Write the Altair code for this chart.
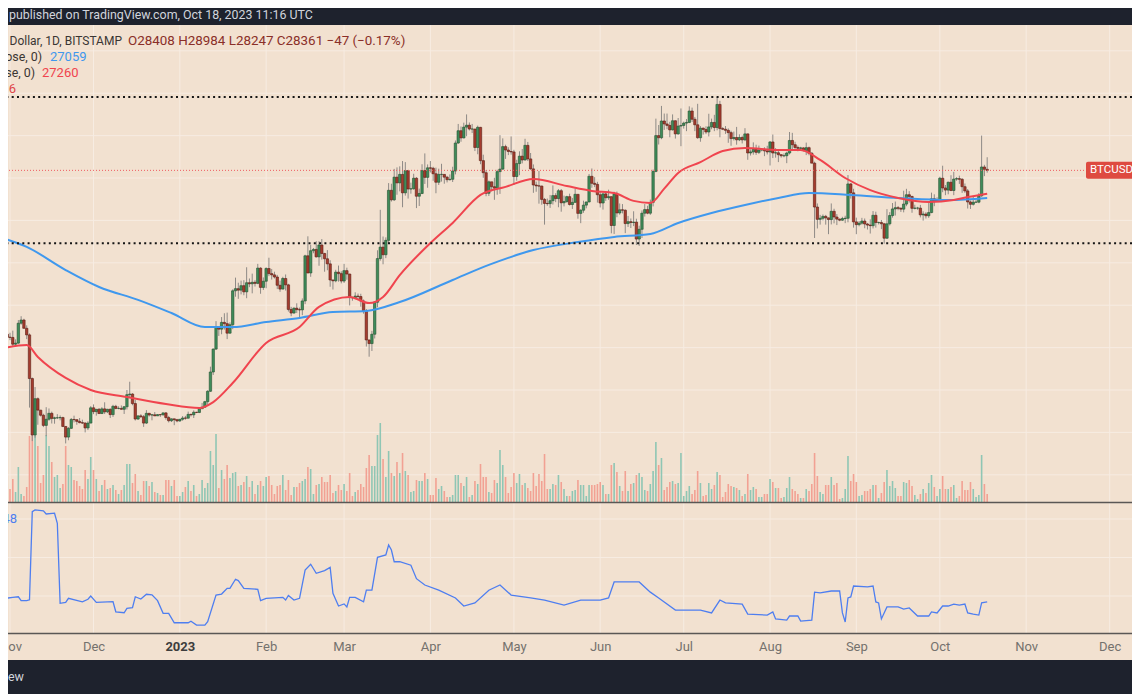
import altair as alt
import pandas as pd

# ------------------------------------------------------------------ data
FIRST_DAY = "2022-10-28"   # one candle per day from here on (BTC/USD, thousands of USD)

open_k = [
 20.29,20.60,20.82,20.63,20.49,20.48,20.16,20.21,21.15,21.30,
 20.91,20.60,18.54,15.88,17.59,17.05,16.81,16.33,16.62,16.90,
 16.66,16.69,16.69,16.70,16.28,15.78,16.19,16.61,16.60,16.52,
 16.46,16.44,16.21,16.44,17.16,16.98,17.09,16.89,17.11,16.97,
 17.09,16.84,17.23,17.13,17.13,17.09,17.21,17.78,17.81,17.36,
 16.63,16.78,16.74,16.44,16.90,16.82,16.83,16.78,16.84,16.83,
 16.92,16.70,16.55,16.64,16.60,16.54,16.62,16.68,16.67,16.85,
 16.83,16.95,16.94,17.12,17.19,17.45,17.94,18.85,19.93,20.95,
 20.87,21.19,21.13,20.68,21.08,22.68,22.78,22.71,22.92,22.63,
 23.06,23.01,23.08,23.03,23.75,22.84,23.13,23.73,23.49,23.43,
 23.33,22.94,22.76,23.26,22.96,21.80,21.63,21.86,21.79,21.78,
 22.20,24.33,23.52,24.57,24.63,24.28,24.84,24.44,24.19,23.95,
 23.19,23.15,23.56,23.49,23.14,23.63,23.47,22.36,22.35,22.43,
 22.41,22.20,21.70,20.36,20.19,20.63,22.14,24.20,24.74,24.38,
 25.06,27.42,26.97,28.04,27.77,28.17,27.30,28.35,27.48,27.49,
 27.99,27.14,27.27,28.35,28.03,28.48,28.46,28.20,27.80,28.17,
 28.17,28.04,27.92,27.94,28.33,29.65,30.23,29.89,30.40,30.49,
 30.31,30.31,29.44,30.39,28.82,28.25,27.28,27.82,27.59,27.52,
 28.30,28.42,29.48,29.32,29.25,29.23,28.07,28.68,29.03,28.85,
 29.54,28.90,28.43,27.67,27.63,27.62,26.99,26.80,26.79,26.93,
 27.17,27.03,27.40,26.83,26.89,27.12,26.75,26.85,27.23,26.33,
 26.48,26.72,26.87,28.08,27.75,27.70,27.21,26.82,27.25,27.07,
 27.12,25.76,27.24,26.35,26.50,26.48,25.85,25.94,25.90,25.92,
 25.12,25.58,26.34,26.51,26.34,26.85,28.31,30.00,29.90,30.69,
 30.55,30.48,30.27,30.70,30.08,30.45,30.48,30.59,30.62,31.16,
 30.77,30.51,29.90,30.35,30.29,30.17,30.41,30.62,30.38,31.47,
 30.33,30.30,30.25,30.14,29.86,29.91,29.80,29.91,29.80,30.08,
 29.18,29.23,29.35,29.21,29.32,29.35,29.28,29.23,29.70,29.18,
 29.19,29.10,29.05,29.05,29.18,29.77,29.57,29.44,29.40,29.42,
 29.30,29.43,29.17,28.70,26.63,26.05,26.10,26.19,26.12,26.04,
 26.43,26.16,26.06,26.01,26.09,26.10,27.72,27.30,25.93,25.80,
 25.87,25.97,25.83,25.78,25.75,26.24,25.90,25.90,25.84,25.16,
 25.84,26.23,26.54,26.60,26.57,26.53,26.77,27.21,27.13,26.57,
 26.58,26.58,26.26,26.30,26.22,26.37,27.02,26.91,26.97,27.99,
 27.53,27.43,27.80,27.41,27.95,27.97,27.94,27.59,27.39,26.87,
 26.76,26.86,26.86,27.16,28.52,28.41]
high_k = [
 20.75,21.08,20.92,20.84,20.70,20.80,20.39,21.30,21.48,21.36,
 21.05,20.67,18.59,18.14,17.65,17.06,16.88,17.19,17.13,16.98,
 16.74,16.86,16.80,16.74,16.30,16.25,16.68,16.79,16.61,16.68,
 16.60,16.48,16.53,17.24,17.32,17.10,17.15,17.19,17.42,17.11,
 17.13,17.30,17.30,17.23,17.27,17.24,18.00,18.39,17.85,17.53,
 16.80,16.86,16.82,17.05,16.92,16.87,16.96,16.86,16.86,16.94,
 16.96,16.78,16.66,16.65,16.64,16.63,16.77,16.78,16.98,16.88,
 17.04,16.97,17.17,17.39,17.49,17.99,19.10,19.96,21.25,20.99,
 21.44,21.62,21.65,21.19,22.75,23.30,23.06,23.16,23.18,23.79,
 23.26,23.49,23.18,23.95,23.79,23.31,23.79,24.24,23.71,23.58,
 23.43,23.16,23.34,23.45,23.01,21.92,21.90,22.09,21.89,22.32,
 24.38,25.25,24.85,24.70,25.02,25.02,25.12,24.47,24.60,24.12,
 23.21,23.67,23.87,23.60,23.95,23.77,23.48,22.40,22.61,22.55,
 22.54,22.27,21.82,20.37,20.79,22.18,24.59,26.50,25.24,25.20,
 27.76,27.73,28.43,28.50,28.55,28.80,28.75,28.38,27.78,28.20,
 28.04,27.50,28.65,29.16,28.64,28.80,28.53,28.49,28.44,28.67,
 28.18,28.10,28.17,28.53,29.77,30.55,30.43,30.61,31.00,30.62,
 30.55,30.32,30.47,30.41,29.10,28.37,27.88,27.82,28.01,28.39,
 30.02,29.87,29.57,29.45,29.96,29.33,28.86,29.26,29.37,29.85,
 29.70,29.18,28.64,27.83,28.33,27.64,27.06,27.03,27.20,27.65,
 27.28,27.48,27.48,27.17,27.16,27.26,27.06,27.50,27.23,26.53,
 26.93,26.88,28.19,28.45,28.04,27.82,27.35,27.30,27.32,27.45,
 27.13,27.35,27.36,26.80,26.77,26.52,26.21,26.09,26.43,26.08,
 25.75,26.47,26.77,26.69,26.98,28.40,30.80,30.50,31.40,31.04,
 31.04,30.65,31.00,30.72,30.83,31.28,30.66,30.78,31.38,31.32,
 30.88,31.50,30.45,30.38,30.44,31.03,30.80,30.98,31.82,31.64,
 30.40,30.45,30.34,30.23,30.19,30.41,30.06,30.00,30.35,30.10,
 29.35,29.68,29.57,29.53,29.41,29.45,29.52,29.74,30.05,29.41,
 29.31,29.12,29.16,29.24,30.17,30.13,29.71,29.53,29.47,29.45,
 29.67,29.48,29.22,28.77,26.80,26.26,26.28,26.26,26.13,26.80,
 26.55,26.30,26.09,26.17,26.22,28.14,27.76,27.49,26.13,25.97,
 26.12,26.09,25.88,26.05,26.44,26.41,25.94,26.02,25.88,26.53,
 26.39,26.82,26.89,26.68,26.62,27.40,27.49,27.38,27.16,26.74,
 26.64,26.73,26.43,26.39,26.82,27.31,27.23,27.09,28.06,28.58,
 27.67,27.83,28.13,28.29,28.04,28.11,27.99,27.74,27.48,26.94,
 27.11,26.96,27.29,30.00,28.62,28.98]
low_k = [
 20.00,20.56,20.52,20.25,20.35,20.05,20.05,20.18,21.08,20.90,
 20.40,17.17,15.59,15.75,16.36,16.75,16.25,15.82,16.55,16.42,
 16.41,16.63,16.57,16.25,15.48,15.63,16.16,16.47,16.36,16.43,
 16.40,16.00,16.11,16.43,16.86,16.79,16.88,16.88,16.87,16.91,
 16.68,16.73,17.09,17.09,17.07,16.87,17.08,17.66,17.28,16.56,
 16.59,16.68,16.26,16.40,16.75,16.57,16.77,16.78,16.73,16.79,
 16.60,16.47,16.49,16.34,16.48,16.50,16.55,16.60,16.66,16.75,
 16.68,16.91,16.91,17.10,17.16,17.30,17.91,18.71,19.89,20.55,
 20.63,20.85,20.40,20.66,20.87,22.40,22.30,22.51,22.47,22.33,
 22.85,22.56,22.88,22.99,22.54,22.72,22.80,23.37,23.21,23.26,
 22.76,22.63,22.75,22.69,21.70,21.48,21.60,21.63,21.37,21.53,
 22.05,23.51,23.34,24.45,24.25,23.86,24.15,23.58,23.65,22.87,
 22.74,23.08,23.11,23.03,23.05,23.20,21.99,22.21,22.28,22.30,
 21.93,21.60,20.05,19.57,19.84,20.43,21.90,24.10,23.93,24.22,
 24.93,26.89,26.92,27.21,27.37,26.62,27.17,27.03,27.26,27.45,
 26.58,26.68,27.24,27.72,27.54,28.26,27.87,27.28,27.67,27.83,
 27.73,27.79,27.88,27.81,28.17,29.61,29.71,29.87,29.97,30.24,
 30.12,29.27,29.12,28.65,28.01,27.14,27.15,27.37,26.97,27.21,
 27.25,28.38,28.90,29.08,29.10,27.67,27.87,28.13,28.69,28.82,
 28.80,28.39,27.30,27.35,26.79,26.74,25.80,26.69,26.59,26.75,
 26.86,26.62,26.41,26.66,26.83,26.70,26.54,26.84,26.08,25.87,
 26.36,26.57,26.85,27.54,27.57,26.84,26.61,26.51,26.92,26.97,
 25.39,25.36,26.15,26.27,26.33,25.40,25.69,25.64,25.73,24.84,
 24.80,25.17,26.18,26.29,26.26,26.66,28.27,29.58,29.83,30.27,
 30.30,29.92,30.24,29.86,30.04,29.50,30.33,30.21,30.59,30.64,
 30.21,29.85,29.71,30.05,30.08,29.96,30.30,30.21,30.25,29.92,
 30.26,30.08,29.66,29.52,29.77,29.57,29.74,29.63,29.74,28.86,
 29.06,29.10,29.09,29.13,29.26,29.03,29.11,28.59,28.94,28.96,
 28.75,28.96,28.98,28.70,29.11,29.36,29.33,29.26,29.36,29.25,
 29.08,29.07,28.70,25.17,25.62,25.80,26.00,25.80,25.35,25.81,
 25.86,25.78,25.96,25.98,25.87,25.91,27.03,25.66,25.35,25.72,
 25.80,25.63,25.57,25.38,25.62,25.66,25.81,25.59,24.90,25.13,
 25.76,26.13,26.23,26.48,26.40,26.38,26.67,26.84,26.36,26.52,
 26.50,26.14,25.99,26.09,26.12,26.34,26.67,26.89,26.95,27.33,
 27.19,27.23,27.38,27.19,27.87,27.72,27.30,27.30,26.56,26.54,
 26.70,26.82,26.81,27.11,28.09,28.25]
close_k = [
 20.60,20.82,20.63,20.49,20.48,20.16,20.21,21.15,21.30,20.91,
 20.60,18.54,15.88,17.59,17.05,16.81,16.33,16.62,16.90,16.66,
 16.69,16.69,16.70,16.28,15.78,16.19,16.61,16.60,16.52,16.46,
 16.44,16.21,16.44,17.16,16.98,17.09,16.89,17.11,16.97,17.09,
 16.84,17.23,17.13,17.13,17.09,17.21,17.78,17.81,17.36,16.63,
 16.78,16.74,16.44,16.90,16.82,16.83,16.78,16.84,16.83,16.92,
 16.70,16.55,16.64,16.60,16.54,16.62,16.68,16.67,16.85,16.83,
 16.95,16.94,17.12,17.19,17.45,17.94,18.85,19.93,20.95,20.87,
 21.19,21.13,20.68,21.08,22.68,22.78,22.71,22.92,22.63,23.06,
 23.01,23.08,23.03,23.75,22.84,23.13,23.73,23.49,23.43,23.33,
 22.94,22.76,23.26,22.96,21.80,21.63,21.86,21.79,21.78,22.20,
 24.33,23.52,24.57,24.63,24.28,24.84,24.44,24.19,23.95,23.19,
 23.15,23.56,23.49,23.14,23.63,23.47,22.36,22.35,22.43,22.41,
 22.20,21.70,20.36,20.19,20.63,22.14,24.20,24.74,24.38,25.06,
 27.42,26.97,28.04,27.77,28.17,27.30,28.35,27.48,27.49,27.99,
 27.14,27.27,28.35,28.03,28.48,28.46,28.20,27.80,28.17,28.17,
 28.04,27.92,27.94,28.33,29.65,30.23,29.89,30.40,30.49,30.31,
 30.31,29.44,30.39,28.82,28.25,27.28,27.82,27.59,27.52,28.30,
 28.42,29.48,29.32,29.25,29.23,28.07,28.68,29.03,28.85,29.54,
 28.90,28.43,27.67,27.63,27.62,26.99,26.80,26.79,26.93,27.17,
 27.03,27.40,26.83,26.89,27.12,26.75,26.85,27.23,26.33,26.48,
 26.72,26.87,28.08,27.75,27.70,27.21,26.82,27.25,27.07,27.12,
 25.76,27.24,26.35,26.50,26.48,25.85,25.94,25.90,25.92,25.12,
 25.58,26.34,26.51,26.34,26.85,28.31,30.00,29.90,30.69,30.55,
 30.48,30.27,30.70,30.08,30.45,30.48,30.59,30.62,31.16,30.77,
 30.51,29.90,30.35,30.29,30.17,30.41,30.62,30.38,31.47,30.33,
 30.30,30.25,30.14,29.86,29.91,29.80,29.91,29.80,30.08,29.18,
 29.23,29.35,29.21,29.32,29.35,29.28,29.23,29.70,29.18,29.19,
 29.10,29.05,29.05,29.18,29.77,29.57,29.44,29.40,29.42,29.30,
 29.43,29.17,28.70,26.63,26.05,26.10,26.19,26.12,26.04,26.43,
 26.16,26.06,26.01,26.09,26.10,27.72,27.30,25.93,25.80,25.87,
 25.97,25.83,25.78,25.75,26.24,25.90,25.90,25.84,25.16,25.84,
 26.23,26.54,26.60,26.57,26.53,26.77,27.21,27.13,26.57,26.58,
 26.58,26.26,26.30,26.22,26.37,27.02,26.91,26.97,27.99,27.53,
 27.43,27.80,27.41,27.95,27.97,27.94,27.59,27.39,26.87,26.76,
 26.86,26.86,27.16,28.52,28.41,28.36]
volume_h = [
 14,12,7,18,13,23,10,35,8,6,
 15,66,67,67,56,19,27,67,56,40,
 25,27,14,18,56,37,35,22,21,16,
 13,32,23,45,32,23,11,17,22,13,
 14,17,12,8,12,17,38,38,19,28,
 11,7,21,21,16,20,10,9,7,7,
 22,22,16,22,6,6,10,15,21,11,
 17,6,8,22,14,19,51,37,68,14,
 32,23,37,24,29,30,16,17,20,26,
 15,21,8,17,21,16,25,26,17,8,
 16,17,27,12,22,7,15,15,19,21,
 23,35,33,8,17,18,25,20,20,27,
 9,11,17,12,18,11,29,6,10,12,
 18,15,34,47,36,36,67,79,43,25,
 51,29,26,40,29,49,31,27,10,11,
 22,21,21,29,23,7,7,24,13,16,
 11,5,5,7,27,27,19,16,25,5,
 7,21,18,38,25,25,10,9,22,19,
 52,37,25,9,15,29,19,28,17,19,
 14,11,29,16,28,21,48,13,13,18,
 17,27,20,13,6,6,11,12,22,17,
 17,6,17,17,17,18,20,17,8,8,
 37,39,30,16,11,31,11,18,19,27,
 29,25,12,11,18,31,60,37,44,12,
 15,20,21,18,19,49,6,11,16,8,
 12,31,19,6,7,19,13,17,30,27,
 5,10,18,16,15,14,12,6,8,28,
 12,15,13,5,5,8,8,23,20,14,
 14,4,5,14,25,13,11,8,4,4,
 13,11,18,49,26,10,8,17,17,25,
 17,19,3,4,13,46,21,28,20,6,
 7,11,11,13,17,17,4,9,20,32,
 16,21,14,6,6,20,19,22,16,7,
 3,8,13,9,19,27,15,6,13,26,
 13,13,15,17,4,6,21,12,12,20,
 13,5,7,47,18,8]

ma50_dates = ["2022-10-28","2022-11-07","2022-11-11","2022-11-21","2022-11-30","2022-12-13",
 "2022-12-27","2023-01-08","2023-01-13","2023-01-20","2023-02-01","2023-02-13","2023-02-20",
 "2023-03-03","2023-03-10","2023-03-15","2023-03-21","2023-04-01","2023-04-09","2023-04-19",
 "2023-04-28","2023-05-08","2023-05-20","2023-05-29","2023-06-06","2023-06-13","2023-06-19",
 "2023-06-24","2023-06-29","2023-07-07","2023-07-15","2023-07-23","2023-08-04","2023-08-12",
 "2023-08-19","2023-08-28","2023-09-06","2023-09-16","2023-09-27","2023-10-06","2023-10-11",
 "2023-10-18"]
ma50_k = [19.93,20.12,19.56,18.57,18.00,17.67,17.34,17.15,17.43,18.33,20.22,20.97,21.92,
 22.39,22.10,22.39,23.42,24.93,25.88,27.20,27.58,27.95,27.62,27.39,27.29,26.92,26.82,
 27.50,28.24,28.75,29.27,29.42,29.32,29.32,28.85,28.00,27.43,27.06,26.87,26.96,27.10,27.26]

ma200_dates = ["2022-10-28","2022-11-07","2022-11-21","2022-12-03","2022-12-17","2022-12-29",
 "2023-01-10","2023-01-20","2023-02-01","2023-02-13","2023-02-25","2023-03-09","2023-03-21",
 "2023-04-09","2023-04-22","2023-05-08","2023-05-24","2023-06-06","2023-06-19","2023-06-29",
 "2023-07-11","2023-07-23","2023-08-04","2023-08-15","2023-08-30","2023-09-16","2023-10-04",
 "2023-10-18"]
ma200_k = [25.22,24.75,23.66,22.86,22.25,21.63,20.97,20.97,21.21,21.40,21.68,21.73,22.15,
 23.19,23.90,24.60,24.98,25.22,25.36,25.88,26.35,26.73,27.06,27.29,27.20,27.06,26.96,27.06]

osc_dates = ["2022-10-28","2022-11-02","2022-11-04","2022-11-05","2022-11-07","2022-11-08",
 "2022-11-09","2022-11-10","2022-11-13","2022-11-14","2022-11-17","2022-11-18","2022-11-19",
 "2022-11-21","2022-11-22","2022-11-27","2022-11-29","2022-11-30","2022-12-02","2022-12-08",
 "2022-12-09","2022-12-12","2022-12-13","2022-12-15","2022-12-16","2022-12-18","2022-12-20",
 "2022-12-22","2022-12-24","2022-12-26","2022-12-28","2022-12-30","2023-01-04","2023-01-05",
 "2023-01-07","2023-01-10","2023-01-11","2023-01-14","2023-01-16","2023-01-18","2023-01-19",
 "2023-01-21","2023-01-22","2023-01-24","2023-01-29","2023-01-30","2023-02-01","2023-02-07",
 "2023-02-08","2023-02-09","2023-02-11","2023-02-13","2023-02-15","2023-02-17","2023-02-19",
 "2023-02-22","2023-02-24","2023-02-25","2023-02-27","2023-03-01","2023-03-02","2023-03-03",
 "2023-03-05","2023-03-08","2023-03-09","2023-03-11","2023-03-13","2023-03-16","2023-03-17",
 "2023-03-18","2023-03-19","2023-03-21","2023-03-25","2023-03-27","2023-03-30","2023-04-04",
 "2023-04-10","2023-04-13","2023-04-17","2023-04-22","2023-04-26","2023-04-30","2023-05-07",
 "2023-05-12","2023-05-19","2023-05-25","2023-06-01","2023-06-04","2023-06-06","2023-06-15",
 "2023-06-19","2023-06-22","2023-06-28","2023-07-07","2023-07-11","2023-07-14","2023-07-16",
 "2023-07-22","2023-07-24","2023-07-31","2023-08-02","2023-08-03","2023-08-07","2023-08-08",
 "2023-08-11","2023-08-12","2023-08-16","2023-08-17","2023-08-19","2023-08-23","2023-08-26",
 "2023-08-27","2023-08-28","2023-08-29","2023-08-30","2023-08-31","2023-09-05","2023-09-07",
 "2023-09-08","2023-09-09","2023-09-10","2023-09-12","2023-09-16","2023-09-18","2023-09-20",
 "2023-09-23","2023-09-27","2023-09-28","2023-09-30","2023-10-02","2023-10-04","2023-10-06",
 "2023-10-08","2023-10-10","2023-10-11","2023-10-13","2023-10-15","2023-10-16","2023-10-18"]
osc_vals = [18.3,19.3,19.6,17.6,17.6,18.0,
 63.8,64.7,64.2,62.6,63.0,57.8,16.2,
 16.7,18.8,17.0,18.3,20.0,16.7,17.1,
 11.8,11.3,13.6,14.0,19.6,18.4,20.9,
 20.6,17.6,11.0,11.0,6.1,6.1,6.9,
 4.9,4.9,6.7,20.5,21.0,24.0,24.0,
 28.7,28.0,24.0,23.5,17.6,18.8,19.3,
 17.9,20.3,17.9,18.8,33.5,36.5,31.8,
 33.2,34.9,21.4,14.8,15.9,14.3,19.3,
 19.3,17.0,23.1,23.1,40.1,41.3,46.5,
 43.9,37.8,37.8,36.0,29.0,25.7,23.0,
 19.0,14.8,16.4,23.0,25.7,20.5,19.0,
 17.9,15.3,17.9,17.9,19.0,27.3,27.3,
 22.0,19.0,12.7,12.7,11.2,17.9,16.4,
 15.8,10.6,10.1,11.7,8.1,7.5,9.6,
 9.6,7.0,7.5,22.0,21.6,22.6,22.6,
 11.2,6.5,19.0,19.5,25.2,24.7,25.2,
 16.9,16.4,8.1,14.3,14.3,13.2,13.8,
 9.6,9.6,11.7,11.2,14.8,14.8,15.8,
 15.3,15.8,11.2,10.6,10.1,16.4,16.9]

price_grid_k = [14, 16, 18, 20, 22, 24, 26, 28, 30, 32, 34]
osc_grid = [20, 40, 60]
month_starts = ["2022-11-01","2022-12-01","2023-01-01","2023-02-01","2023-03-01","2023-04-01",
 "2023-05-01","2023-06-01","2023-07-01","2023-08-01","2023-09-01","2023-10-01","2023-11-01",
 "2023-12-01"]
levels_k = [31.82, 24.92]
last_close_k = [28.361]

n = len(close_k)
assert all(len(a) == n for a in (open_k, high_k, low_k, volume_h))
assert len(ma50_dates) == len(ma50_k) and len(ma200_dates) == len(ma200_k)
assert len(osc_dates) == len(osc_vals)

candles = pd.DataFrame({
    "date": pd.date_range(FIRST_DAY, periods=n, freq="D").strftime("%Y-%m-%d"),
    "open": open_k, "high": high_k, "low": low_k, "close": close_k, "volume": volume_h,
})
ma50 = pd.DataFrame({"date": ma50_dates, "ma": ma50_k})
ma200 = pd.DataFrame({"date": ma200_dates, "ma": ma200_k})
osc = pd.DataFrame({"date": osc_dates, "v": osc_vals})
one = pd.DataFrame({"k": [0]})

# ------------------------------------------------------------------ layout / style
W, H = 1124, 635          # canvas 1124 wide fits the page body without being scaled down
FONT = "Roboto"
BG = "#f2e1d0"
GRID = "#f7ece2"
DARK = "#1e222d"
UP, UP_EDGE = "#3f8c5a", "#24512f"
DN, DN_EDGE = "#a53c2e", "#5a1c14"
WICK = "#8e8a86"
VOL_UP, VOL_DN = "#8fc6b4", "#f2a193"
MA50_C, MA200_C = "#f0444e", "#3f98ee"
OSC_C = "#4e7ef0"

PX_PER_DAY = 2.784
NOV1_X = 2.0
DAY_MS = 86400000
nov1_ms = int(pd.Timestamp("2022-11-01", tz="UTC").value // 10**6)
x_dom = [nov1_ms - NOV1_X / PX_PER_DAY * DAY_MS, nov1_ms + (W - NOV1_X) / PX_PER_DAY * DAY_MS]
tick_ms = [int(pd.Timestamp(m, tz="UTC").value // 10**6) for m in month_starts]

xs = alt.Scale(type="utc", domain=x_dom, nice=False, padding=0)
xaxis = alt.Axis(
    values=tick_ms, orient="bottom", offset=-27, domain=False, ticks=False, grid=False,
    labelExpr="utcmonth(datum.value) == 0 ? utcFormat(datum.value, '%Y') : utcFormat(datum.value, '%b')",
    labelFont=FONT, labelFontSize=13, labelPadding=7, labelOverlap=False, labelBound=False,
    labelFlush=False,
    labelColor={"condition": {"test": "utcmonth(datum.value) == 0", "value": "#3d3d3d"}, "value": "#74716d"},
    labelFontWeight={"condition": {"test": "utcmonth(datum.value) == 0", "value": "bold"}, "value": "normal"},
)


def X(field="date"):
    return alt.X(f"{field}:T", scale=xs, axis=xaxis, title=None)


ps = alt.Scale(domain=[12.717, 35.217], range=[477, 0], zero=False, nice=False)
vs = alt.Scale(domain=[0, 100], range=[477, 377], zero=False, nice=False)
os_ = alt.Scale(domain=[0, 68], range=[609.5, 478.6], zero=False, nice=False)

dir_expr = "datum.close >= datum.open ? 'up' : 'down'"

layers = []
# grids
layers.append(alt.Chart(pd.DataFrame({"p": price_grid_k})).mark_rule(color=GRID, strokeWidth=1)
              .encode(y=alt.Y("p:Q", scale=ps, axis=None)))
layers.append(alt.Chart(pd.DataFrame({"g": osc_grid})).mark_rule(color=GRID, strokeWidth=1)
              .encode(y=alt.Y("g:Q", scale=os_, axis=None)))
layers.append(alt.Chart(pd.DataFrame({"m": month_starts})).mark_rule(color=GRID, strokeWidth=1)
              .encode(x=X("m"), y=alt.value(0), y2=alt.value(608)))
# volume
layers.append(alt.Chart(candles).transform_calculate(dir=dir_expr).mark_bar(size=1.6)
              .encode(x=X(), y=alt.Y("volume:Q", scale=vs, axis=None),
                      color=alt.Color("dir:N", scale=alt.Scale(domain=["up", "down"], range=[VOL_UP, VOL_DN]), legend=None)))
# candles
layers.append(alt.Chart(candles).mark_rule(color=WICK, strokeWidth=1)
              .encode(x=X(), y=alt.Y("low:Q", scale=ps, axis=None), y2="high:Q"))
layers.append(alt.Chart(candles).transform_calculate(dir=dir_expr).mark_bar(size=2.4, strokeWidth=0.6)
              .encode(x=X(), y=alt.Y("open:Q", scale=ps, axis=None), y2="close:Q",
                      color=alt.Color("dir:N", scale=alt.Scale(domain=["up", "down"], range=[UP, DN]), legend=None),
                      stroke=alt.Stroke("dir:N", scale=alt.Scale(domain=["up", "down"], range=[UP_EDGE, DN_EDGE]), legend=None)))
# moving averages
layers.append(alt.Chart(ma200).mark_line(color=MA200_C, strokeWidth=2, interpolate="monotone")
              .encode(x=X(), y=alt.Y("ma:Q", scale=ps, axis=None)))
layers.append(alt.Chart(ma50).mark_line(color=MA50_C, strokeWidth=2, interpolate="monotone")
              .encode(x=X(), y=alt.Y("ma:Q", scale=ps, axis=None)))
# horizontal levels
layers.append(alt.Chart(pd.DataFrame({"lvl": levels_k})).mark_rule(color="#151515", strokeWidth=2, strokeDash=[2, 3.3])
              .encode(y=alt.Y("lvl:Q", scale=ps, axis=None)))
layers.append(alt.Chart(pd.DataFrame({"p": last_close_k})).mark_rule(color="#ef5a60", strokeWidth=1, strokeDash=[1, 2])
              .encode(y=alt.Y("p:Q", scale=ps, axis=None)))
# pane separators
layers.append(alt.Chart(one).mark_rule(color="#5a5755", strokeWidth=1.5).encode(y=alt.value(477.5)))
layers.append(alt.Chart(one).mark_rule(color="#5a5755", strokeWidth=1.5).encode(y=alt.value(608.5)))
# oscillator
layers.append(alt.Chart(osc).mark_line(color=OSC_C, strokeWidth=1.3)
              .encode(x=X(), y=alt.Y("v:Q", scale=os_, axis=None)))
# price tag (pulled a little left so the whole tag text fits on the page)
layers.append(alt.Chart(pd.DataFrame({"p": last_close_k})).mark_rect(color="#de4a40", cornerRadius=2, yOffset=-8.5, y2Offset=8.5)
              .encode(x=alt.value(1078), x2=alt.value(1140), y=alt.Y("p:Q", scale=ps, axis=None), y2="p:Q"))
layers.append(alt.Chart(pd.DataFrame({"p": last_close_k})).mark_text(text="BTCUSD", color="white", align="left", baseline="middle", font=FONT, fontSize=11.5)
              .encode(x=alt.value(1082), y=alt.Y("p:Q", scale=ps, axis=None)))


def label(text, x, y, color, size=13, align="left", weight="normal"):
    return (alt.Chart(one)
            .mark_text(text=text, align=align, baseline="middle", font=FONT, fontSize=size,
                       color=color, fontWeight=weight)
            .encode(x=alt.value(x), y=alt.value(y)))


layers += [
    label("published on TradingView.com, Oct 18, 2023 11:16 UTC", 1, -10, "#d1d4dc", size=12.4),
    label("Bitcoin / U.S. Dollar, 1D, BITSTAMP", 114, 16, "#3a3633", size=12, align="right"),
    label("O28408  H28984  L28247  C28361  \u221247 (\u22120.17%)", 120, 16, "#8a2f28", size=13.4),
    label("MA (200, close, 0)", 34, 32, "#3a3633", size=12.4, align="right"),
    label("27059", 42, 32, MA200_C),
    label("MA (50, close, 0)", 27, 48, "#3a3633", size=12.4, align="right"),
    label("27260", 34, 48, MA50_C),
    label("Vol 16", 8, 64, "#e0454a", align="right"),
    label("48", 9, 494, OSC_C, align="right"),
    label("TradingView", 16, 652, "#d1d4dc", size=12.5, align="right"),
]

chart = (alt.layer(*layers)
         .resolve_scale(y="independent", color="independent", stroke="independent")
         .properties(width=W, height=H, background=DARK,
                     padding={"top": 17, "bottom": 34, "left": 0, "right": 0},
                     autosize=alt.AutoSizeParams(type="none"))
         .configure_view(fill=BG, stroke=None))

chart.save("out.html", embed_options={"renderer": "svg", "actions": False})
